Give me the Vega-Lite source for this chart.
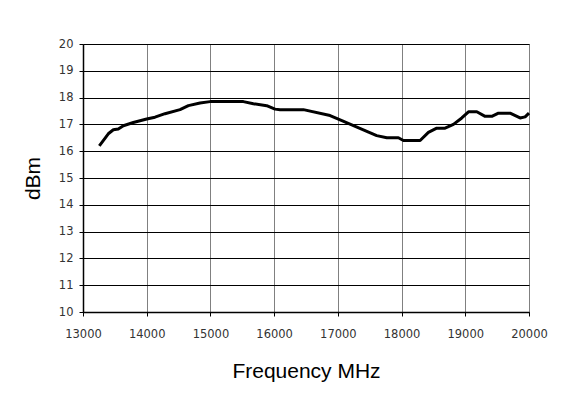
{
  "$schema": "https://vega.github.io/schema/vega-lite/v6.json",
  "width": 446,
  "height": 268,
  "autosize": {"type": "none"},
  "padding": {"left": 83, "top": 44, "right": 35, "bottom": 82},
  "background": "white",
  "config": {
    "view": {"stroke": "#808080", "strokeWidth": 1},
    "font": "DejaVu Sans"
  },
  "data": {
    "values": [
      {"f": 13256, "dbm": 16.2},
      {"f": 13397, "dbm": 16.65},
      {"f": 13476, "dbm": 16.8},
      {"f": 13554, "dbm": 16.83},
      {"f": 13633, "dbm": 16.95},
      {"f": 13790, "dbm": 17.07},
      {"f": 14000, "dbm": 17.2},
      {"f": 14130, "dbm": 17.27},
      {"f": 14287, "dbm": 17.4},
      {"f": 14523, "dbm": 17.55},
      {"f": 14654, "dbm": 17.7},
      {"f": 14837, "dbm": 17.8},
      {"f": 14994, "dbm": 17.85},
      {"f": 15517, "dbm": 17.85},
      {"f": 15674, "dbm": 17.77},
      {"f": 15883, "dbm": 17.7},
      {"f": 16014, "dbm": 17.57},
      {"f": 16093, "dbm": 17.55},
      {"f": 16459, "dbm": 17.55},
      {"f": 16878, "dbm": 17.33},
      {"f": 17008, "dbm": 17.2},
      {"f": 17610, "dbm": 16.58},
      {"f": 17768, "dbm": 16.5},
      {"f": 17950, "dbm": 16.5},
      {"f": 18029, "dbm": 16.4},
      {"f": 18291, "dbm": 16.4},
      {"f": 18421, "dbm": 16.7},
      {"f": 18552, "dbm": 16.86},
      {"f": 18683, "dbm": 16.86},
      {"f": 18814, "dbm": 17.0},
      {"f": 18945, "dbm": 17.24},
      {"f": 19050, "dbm": 17.47},
      {"f": 19181, "dbm": 17.47},
      {"f": 19311, "dbm": 17.3},
      {"f": 19416, "dbm": 17.3},
      {"f": 19520, "dbm": 17.42},
      {"f": 19703, "dbm": 17.42},
      {"f": 19860, "dbm": 17.24},
      {"f": 19939, "dbm": 17.28},
      {"f": 20000, "dbm": 17.42}
    ]
  },
  "mark": {"type": "line", "color": "black", "strokeWidth": 3, "strokeJoin": "round", "strokeCap": "butt", "clip": false},
  "encoding": {
    "x": {
      "field": "f",
      "type": "quantitative",
      "scale": {"domain": [13000, 20000], "nice": false, "zero": false},
      "axis": {
        "title": "Frequency MHz",
        "values": [13000, 14000, 15000, 16000, 17000, 18000, 19000, 20000],
        "format": "d",
        "grid": true,
        "gridColor": "#808080",
        "gridOpacity": 1,
        "gridWidth": 1,
        "domainColor": "black",
        "domainWidth": 1.5,
        "tickColor": "black",
        "tickSize": 4,
        "labelFont": "DejaVu Sans",
        "labelFontSize": 11.5,
        "labelColor": "#333333",
        "labelPadding": 12,
        "labelFlush": false,
        "titleFont": "Liberation Sans",
        "titleFontSize": 21,
        "titleFontWeight": "normal",
        "titleColor": "black",
        "titlePadding": 21
      }
    },
    "y": {
      "field": "dbm",
      "type": "quantitative",
      "scale": {"domain": [10, 20], "nice": false, "zero": false},
      "axis": {
        "title": "dBm",
        "values": [10, 11, 12, 13, 14, 15, 16, 17, 18, 19, 20],
        "grid": true,
        "gridColor": "black",
        "gridOpacity": 1,
        "gridWidth": 1,
        "domainColor": "black",
        "domainWidth": 1.5,
        "tickColor": "black",
        "tickSize": 4,
        "labelFont": "DejaVu Sans",
        "labelFontSize": 11.5,
        "labelColor": "#333333",
        "labelPadding": 6,
        "labelFlush": false,
        "titleFont": "Liberation Sans",
        "titleFontSize": 21,
        "titleFontWeight": "normal",
        "titleColor": "black",
        "titlePadding": 15
      }
    }
  }
}
